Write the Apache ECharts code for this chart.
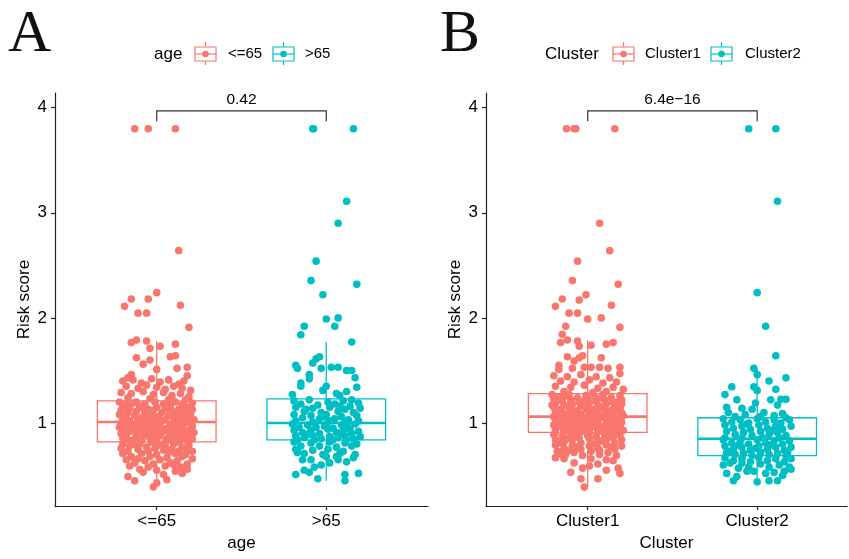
<!DOCTYPE html>
<html>
<head>
<meta charset="utf-8">
<script src="https://cdn.jsdelivr.net/npm/echarts@6/dist/echarts.min.js"></script>
<style>html,body{margin:0;padding:0;background:#fff}#c{width:849px;height:559px}</style>
</head>
<body>
<div id="c"></div>
<script>
// ---------------- DATA ----------------
const ageCats = ['<=65', '>65'];
const clusterCats = ['Cluster1', 'Cluster2'];
const yTicks = [1, 2, 3, 4];
const pValues = ['0.42', '6.4e\u221216'];
// box statistics: [lower whisker, Q1, median, Q3, upper whisker]
const ageBox = [[0.39, 0.82, 1.01, 1.21, 1.78], [0.45, 0.84, 1.00, 1.23, 1.77]];
const clusterBox = [[0.39, 0.91, 1.06, 1.28, 1.79], [0.44, 0.69, 0.85, 1.05, 1.52]];
// jittered points: [horizontal jitter (category units), risk score]
const ageLow = [
[-0.13,3.80],[-0.05,3.80],[0.11,3.80],
[0.13,2.64],[0.00,2.24],[-0.15,2.18],[-0.05,2.18],[-0.19,2.11],[0.14,2.12],[-0.11,2.045],[-0.06,2.045],[0.19,1.91],
[-0.15,1.765],[-0.12,1.79],[-0.06,1.78],[-0.04,1.71],[0.02,1.73],[0.11,1.75],
[-0.12,1.62],[-0.08,1.56],[-0.04,1.60],[0.08,1.63],[0.11,1.64],[0.00,1.51],[0.12,1.52],[0.18,1.53],
[-0.15,1.46],[-0.17,1.43],[0.18,1.45],
[-0.20,1.40],[-0.14,1.41],[-0.09,1.38],[-0.03,1.42],[0.02,1.39],[0.07,1.41],[0.13,1.37],[0.16,1.40],
[-0.18,1.35],[-0.11,1.33],[-0.06,1.36],[0.00,1.34],[0.05,1.32],[0.10,1.35],[0.15,1.33],[0.20,1.31],
[-0.21,1.29],[-0.15,1.28],[-0.08,1.30],[-0.02,1.27],[0.04,1.29],[0.09,1.26],[0.14,1.28],[0.19,1.25],
[-0.17,1.24],[-0.04,1.23],[0.07,1.22],[0.17,1.22],
[-0.22,1.20],[-0.12,1.20],[-0.01,1.20],[0.11,1.20],[0.21,1.19],
[-0.18,1.18],[-0.07,1.18],[0.04,1.18],[0.15,1.17],
[-0.20,1.16],[-0.10,1.16],[0.00,1.15],[0.08,1.16],[0.18,1.15],
[-0.16,1.14],[-0.05,1.13],[0.05,1.14],[0.13,1.13],[0.21,1.13],
[-0.21,1.12],[-0.12,1.11],[-0.02,1.12],[0.09,1.11],[0.17,1.11],
[-0.17,1.10],[-0.07,1.09],[0.03,1.10],[0.12,1.09],[0.20,1.09],
[-0.22,1.08],[-0.13,1.07],[-0.03,1.08],[0.07,1.07],[0.15,1.07],
[-0.18,1.06],[-0.09,1.05],[0.01,1.06],[0.10,1.05],[0.19,1.05],
[-0.20,1.04],[-0.11,1.03],[-0.04,1.04],[0.05,1.03],[0.14,1.03],[0.22,1.03],
[-0.16,1.02],[-0.06,1.02],[0.03,1.02],[0.12,1.01],[0.18,1.02],
[-0.14,1.19],[0.06,1.19],[-0.19,1.13],[0.16,1.16],[-0.01,1.05],[0.08,1.09],[-0.08,1.14],
[-0.21,1.00],[-0.12,0.99],[-0.02,1.00],[0.08,0.99],[0.17,1.00],
[-0.18,0.98],[-0.08,0.97],[0.02,0.98],[0.12,0.97],[0.21,0.97],
[-0.22,0.96],[-0.14,0.95],[-0.04,0.96],[0.06,0.95],[0.15,0.95],
[-0.19,0.94],[-0.10,0.93],[0.00,0.94],[0.10,0.93],[0.19,0.93],
[-0.16,0.92],[-0.06,0.91],[0.04,0.92],[0.13,0.91],[0.22,0.91],
[-0.21,0.90],[-0.12,0.89],[-0.02,0.90],[0.08,0.89],[0.17,0.89],
[-0.18,0.88],[-0.08,0.87],[0.02,0.88],[0.11,0.87],[0.20,0.87],
[-0.20,0.86],[-0.13,0.85],[-0.04,0.86],[0.06,0.85],[0.15,0.85],
[-0.17,0.84],[-0.09,0.83],[0.00,0.84],[0.09,0.83],[0.18,0.83],
[-0.14,0.82],[-0.03,0.82],[0.05,0.82],[0.13,0.82],
[-0.07,0.99],[0.13,0.99],[-0.15,0.97],[0.05,0.93],[-0.11,0.91],[0.14,0.88],[-0.01,0.86],[0.21,0.85],
[-0.20,0.80],[-0.10,0.80],[0.01,0.79],[0.10,0.80],[0.19,0.79],
[-0.16,0.78],[-0.06,0.77],[0.05,0.78],[0.15,0.77],
[-0.21,0.76],[-0.11,0.75],[-0.01,0.76],[0.09,0.75],[0.18,0.75],
[-0.17,0.73],[-0.05,0.73],[0.04,0.74],[0.13,0.73],[0.21,0.73],
[-0.20,0.71],[-0.09,0.71],[0.00,0.70],[0.11,0.71],[0.17,0.70],
[-0.15,0.68],[-0.04,0.68],[0.06,0.67],[0.15,0.68],[0.21,0.66],
[-0.18,0.65],[-0.07,0.64],[0.02,0.65],[0.12,0.64],
[-0.13,0.62],[-0.02,0.61],[0.08,0.62],[0.18,0.61],
[-0.16,0.59],[-0.05,0.58],[0.05,0.59],[0.14,0.58],
[-0.10,0.56],[0.00,0.55],[0.18,0.56],
[-0.17,0.49],[-0.13,0.45],[-0.02,0.39],[0.00,0.43],[0.06,0.46],[0.11,0.54],[0.15,0.52],
[-0.12,0.79],[0.07,0.72],[-0.11,0.66],[0.10,0.60],[-0.08,0.53],[0.04,0.51]
];
const ageHigh = [
[-0.08,3.80],[-0.075,3.80],[0.16,3.80],[0.12,3.11],[0.07,2.90],[-0.06,2.54],[-0.09,2.355],[0.18,2.32],[-0.02,2.22],[0.00,1.99],[0.07,2.00],[0.05,1.92],[-0.13,1.92],[-0.15,1.84],[0.15,1.77],
[-0.18,1.55],[-0.17,1.52],[-0.08,1.57],[-0.06,1.61],[-0.04,1.63],[-0.03,1.52],[0.03,1.53],[0.07,1.53],[0.12,1.50],[0.15,1.50],[-0.10,1.46],[-0.10,1.42],[0.17,1.43],[-0.15,1.38],[-0.15,1.35],[0.18,1.34],[0.00,1.35],[-0.02,1.31],[0.12,1.30],[-0.20,1.27],[0.06,1.28],[0.08,1.26],[0.15,1.22],
[-0.19,1.21],[-0.10,1.22],[0.01,1.20],[0.10,1.21],[0.19,1.19],
[-0.15,1.18],[-0.05,1.17],[0.05,1.18],[0.14,1.16],
[-0.18,1.15],[-0.08,1.14],[0.02,1.15],[0.11,1.13],[0.20,1.14],
[-0.13,1.11],[-0.03,1.10],[0.07,1.11],[0.16,1.10],
[-0.19,1.08],[-0.09,1.07],[0.00,1.08],[0.09,1.06],[0.18,1.07],
[-0.14,1.05],[-0.04,1.04],[0.05,1.04],[0.13,1.03],
[-0.18,1.02],[-0.08,1.01],[0.02,1.02],[0.11,1.01],[0.19,1.02],
[-0.12,1.13],[0.08,1.16],[-0.01,1.06],
[-0.20,0.99],[-0.11,0.98],[0.00,0.99],[0.09,0.98],[0.17,0.99],
[-0.16,0.96],[-0.06,0.96],[0.04,0.95],[0.13,0.96],
[-0.19,0.93],[-0.09,0.93],[0.01,0.94],[0.10,0.93],[0.19,0.92],
[-0.14,0.91],[-0.04,0.90],[0.06,0.91],[0.15,0.90],
[-0.18,0.88],[-0.08,0.88],[0.02,0.87],[0.11,0.88],[0.20,0.87],
[-0.13,0.86],[-0.03,0.85],[0.07,0.86],[0.16,0.85],
[-0.17,0.84],[-0.07,0.84],[0.04,0.84],[0.12,0.84],
[-0.01,0.97],[0.14,0.94],[-0.11,0.89],[0.08,0.90],
[-0.19,0.82],[-0.09,0.81],[0.02,0.82],[0.11,0.81],[0.18,0.80],
[-0.15,0.78],[-0.04,0.78],[0.06,0.77],[0.15,0.78],
[-0.18,0.75],[-0.08,0.74],[0.01,0.75],[0.10,0.73],
[-0.13,0.71],[-0.02,0.70],[0.08,0.71],[0.17,0.70],
[-0.14,0.65],[-0.09,0.65],[0.06,0.68],[0.07,0.65],[0.16,0.67],[0.12,0.63],[-0.07,0.58],[0.02,0.62],[-0.03,0.60],
[-0.18,0.51],[-0.13,0.55],[-0.10,0.53],[-0.05,0.47],[0.11,0.51],[0.11,0.45],[0.19,0.52],
[0.00,0.68],[-0.17,0.72]
];
const cluster1 = [
[-0.125,3.80],[-0.08,3.80],[-0.07,3.80],[0.16,3.80],
[0.07,2.90],[0.13,2.64],[-0.06,2.54],[-0.09,2.355],[0.18,2.32],[-0.01,2.22],[-0.15,2.18],[-0.05,2.17],[-0.19,2.11],[0.14,2.12],
[-0.11,2.045],[-0.06,2.045],[0.00,1.99],[0.08,2.00],[0.19,1.91],[-0.13,1.92],[-0.15,1.845],
[-0.16,1.765],[-0.12,1.79],[-0.06,1.78],[-0.05,1.73],[0.02,1.74],[0.11,1.75],[0.15,1.765],
[-0.12,1.63],[-0.08,1.59],[-0.05,1.62],[-0.03,1.64],[0.08,1.62],
[-0.17,1.55],[-0.17,1.51],[-0.09,1.52],[-0.02,1.53],[0.02,1.53],[0.07,1.53],[0.12,1.52],[0.19,1.53],[0.19,1.47],
[-0.20,1.45],[-0.12,1.44],[-0.04,1.46],[0.05,1.44],[0.13,1.43],
[-0.16,1.40],[-0.08,1.39],[0.01,1.41],[0.09,1.38],[0.17,1.39],
[-0.19,1.35],[-0.10,1.34],[-0.02,1.36],[0.06,1.33],[0.15,1.34],[0.21,1.32],
[-0.14,1.30],[0.03,1.29],[0.11,1.30],
[-0.21,1.27],[-0.11,1.27],[-0.01,1.26],[0.09,1.27],[0.19,1.26],
[-0.17,1.25],[-0.06,1.24],[0.04,1.25],[0.14,1.24],
[-0.20,1.23],[-0.10,1.22],[0.00,1.23],[0.10,1.22],[0.20,1.22],
[-0.15,1.21],[-0.05,1.20],[0.05,1.21],[0.15,1.20],
[-0.19,1.19],[-0.09,1.18],[0.01,1.19],[0.11,1.18],[0.20,1.18],
[-0.14,1.17],[-0.04,1.16],[0.06,1.17],[0.16,1.16],
[-0.20,1.15],[-0.10,1.14],[0.00,1.15],[0.10,1.14],[0.19,1.14],
[-0.16,1.13],[-0.06,1.12],[0.04,1.13],[0.14,1.12],
[-0.19,1.11],[-0.09,1.10],[0.01,1.11],[0.11,1.10],[0.20,1.10],
[-0.14,1.09],[-0.04,1.08],[0.06,1.09],[0.16,1.08],
[-0.18,1.07],[-0.08,1.07],[0.02,1.07],[0.12,1.07],[0.21,1.07],
[-0.13,1.26],[0.08,1.24],[-0.02,1.21],[0.18,1.20],[-0.12,1.16],[0.08,1.15],[-0.01,1.13],[0.17,1.12],[-0.11,1.09],[0.07,1.08],[-0.21,1.17],
[-0.20,1.06],[-0.10,1.05],[0.00,1.06],[0.10,1.05],[0.19,1.05],
[-0.15,1.04],[-0.05,1.03],[0.05,1.04],[0.15,1.03],
[-0.19,1.02],[-0.09,1.01],[0.01,1.02],[0.11,1.01],[0.20,1.01],
[-0.14,1.00],[-0.04,0.99],[0.06,1.00],[0.16,0.99],
[-0.20,0.98],[-0.10,0.97],[0.00,0.98],[0.10,0.97],[0.19,0.97],
[-0.15,0.96],[-0.05,0.95],[0.05,0.96],[0.15,0.95],
[-0.19,0.94],[-0.09,0.93],[0.01,0.94],[0.11,0.93],[0.21,0.93],
[-0.14,0.92],[-0.04,0.92],[0.06,0.92],[0.16,0.91],
[-0.19,0.91],[-0.09,0.91],[0.01,0.91],[0.11,0.91],
[-0.12,1.06],[0.07,1.06],[-0.02,1.04],[0.17,1.04],[-0.13,1.02],[0.06,1.02],[-0.18,1.00],[0.02,1.00],[0.12,0.99],[-0.07,0.98],[0.14,0.98],[-0.11,0.96],[0.09,0.96],[-0.01,0.95],[0.19,0.95],[-0.14,0.94],[0.06,0.94],[-0.07,0.93],[0.13,0.93],[-0.02,0.92],[0.19,0.92],
[-0.20,0.89],[-0.10,0.89],[0.00,0.88],[0.10,0.89],[0.19,0.88],
[-0.15,0.87],[-0.05,0.86],[0.05,0.87],[0.15,0.86],
[-0.19,0.84],[-0.09,0.84],[0.01,0.85],[0.11,0.84],[0.20,0.84],
[-0.14,0.82],[-0.04,0.81],[0.06,0.82],[0.16,0.81],
[-0.19,0.79],[-0.09,0.79],[0.01,0.78],[0.11,0.79],[0.20,0.78],
[-0.14,0.76],[-0.04,0.75],[0.06,0.76],[0.16,0.75],
[-0.18,0.73],[-0.08,0.72],[0.02,0.73],[0.12,0.72],
[-0.13,0.70],[-0.03,0.69],[0.07,0.70],[0.17,0.69],
[-0.19,0.67],[-0.14,0.66],[0.01,0.59],[-0.03,0.57],[0.11,0.65],[-0.10,0.53],[-0.04,0.47],[-0.02,0.39],[0.06,0.47],[0.11,0.55],[0.18,0.57],[0.19,0.52],
[-0.07,0.88],[0.13,0.87],[-0.12,0.85],[0.08,0.83],[-0.17,0.81],[0.03,0.80],[-0.06,0.77],[0.14,0.77],[-0.11,0.74],[0.07,0.74],[-0.16,0.71],[0.02,0.66],[0.15,0.64],[-0.08,0.62],[0.06,0.61]
];
const cluster2 = [
[-0.05,3.80],[0.11,3.80],[0.12,3.11],[0.00,2.24],[0.05,1.92],[0.11,1.64],[-0.02,1.52],[0.00,1.46],[0.17,1.43],[0.07,1.40],[0.11,1.32],[-0.19,1.27],[-0.15,1.345],[-0.12,1.22],[-0.02,1.345],[0.00,1.31],[0.08,1.22],[0.14,1.225],[0.17,1.225],[0.12,1.17],[-0.03,1.13],[-0.09,1.14],[0.17,1.05],
[-0.17,1.10],[-0.07,1.08],[0.04,1.10],[0.10,1.07],[-0.13,1.06],[0.02,1.06],[0.15,1.09],[-0.01,1.19],[-0.18,1.15],
[-0.20,1.04],[-0.10,1.03],[0.00,1.04],[0.10,1.03],[0.19,1.03],
[-0.15,1.01],[-0.05,1.00],[0.05,1.01],[0.14,1.00],
[-0.19,0.98],[-0.09,0.97],[0.01,0.98],[0.11,0.97],[0.20,0.97],
[-0.14,0.95],[-0.04,0.94],[0.06,0.95],[0.15,0.94],
[-0.18,0.92],[-0.08,0.91],[0.02,0.92],[0.12,0.91],
[-0.13,0.89],[-0.03,0.88],[0.07,0.89],[0.17,0.88],
[-0.19,0.86],[-0.09,0.86],[0.03,0.86],[0.13,0.86],
[-0.06,0.99],[0.09,0.93],
[-0.20,0.84],[-0.10,0.83],[0.00,0.84],[0.10,0.83],[0.19,0.83],
[-0.15,0.81],[-0.05,0.80],[0.05,0.81],[0.15,0.80],
[-0.19,0.78],[-0.09,0.77],[0.01,0.78],[0.11,0.77],[0.20,0.77],
[-0.14,0.75],[-0.04,0.74],[0.06,0.75],[0.16,0.74],
[-0.18,0.72],[-0.08,0.71],[0.02,0.72],[0.12,0.71],
[-0.13,0.70],[-0.03,0.69],[0.07,0.70],[0.17,0.69],
[-0.11,0.79],[0.08,0.79],[-0.01,0.76],[0.18,0.72],[-0.16,0.73],
[-0.19,0.67],[-0.09,0.66],[0.01,0.67],[0.11,0.66],[0.20,0.66],
[-0.14,0.64],[-0.04,0.63],[0.06,0.64],[0.16,0.63],
[-0.20,0.60],[-0.16,0.62],[-0.09,0.62],[0.02,0.61],[0.13,0.60],
[-0.11,0.57],[0.07,0.58],[0.19,0.58],
[-0.18,0.52],[-0.14,0.45],[0.00,0.44],[0.07,0.45],[0.12,0.45],[0.16,0.54],[0.20,0.56],[0.05,0.52],[0.10,0.53],[-0.06,0.54],[-0.02,0.54],
[-0.05,0.58],[0.15,0.50],[-0.12,0.49]
];

// ---------------- STYLE / LAYOUT ----------------
const colors = ['#F8766D', '#00BFC4'];
const FONT = 'Liberation Sans, Arial, sans-serif';
const panels = [
  { letter: 'A', title: 'age', cats: ageCats, groups: [ageLow, ageHigh], boxes: ageBox, p: pValues[0],
    left: 55, width: 373, xMax: 2.6, letterX: 8,
    legend: { titleX: 154, icons: [195, 273], labels: [228, 305] } },
  { letter: 'B', title: 'Cluster', cats: clusterCats, groups: [cluster1, cluster2], boxes: clusterBox, p: pValues[1],
    left: 486, width: 361, xMax: 2.53, letterX: 440,
    legend: { titleX: 545, icons: [613, 711], labels: [645, 745] } }
];
const bracket = [3.97, 3.87];

const chart = echarts.init(document.getElementById('c'), null, { renderer: 'canvas' });

const grids = [], xAxes = [], yAxes = [], series = [], graphics = [];
panels.forEach((pn, i) => {
  grids.push({ left: pn.left, top: 93, width: pn.width, height: 413, outerBoundsMode: 'none', containLabel: false });
  xAxes.push({
    type: 'value', gridIndex: i, min: 0.4, max: pn.xMax,
    name: pn.title, nameLocation: 'middle', nameGap: 27,
    nameTextStyle: { fontSize: 17, color: '#000', fontFamily: FONT },
    axisLine: { show: true, lineStyle: { color: '#222', width: 1.2 } },
    axisTick: { show: true, length: 4, customValues: [1, 2], lineStyle: { color: '#222', width: 1.2 } },
    axisLabel: { customValues: [1, 2], formatter: v => pn.cats[Math.round(v) - 1], fontSize: 17, color: '#000', fontFamily: FONT, margin: 7 },
    splitLine: { show: false }
  });
  yAxes.push({
    type: 'value', gridIndex: i, min: 0.21, max: 4.14,
    name: 'Risk score', nameLocation: 'middle', nameGap: 22,
    nameTextStyle: { fontSize: 17, color: '#000', fontFamily: FONT },
    axisLine: { show: true, lineStyle: { color: '#222', width: 1.2 } },
    axisTick: { show: true, length: 4, customValues: yTicks, lineStyle: { color: '#222', width: 1.2 } },
    axisLabel: { customValues: yTicks, fontSize: 17, color: '#000', fontFamily: FONT, margin: 8 },
    splitLine: { show: false }
  });
  // boxes
  pn.boxes.forEach((b, g) => {
    series.push({
      type: 'custom', xAxisIndex: i, yAxisIndex: i, z: 1, silent: true,
      data: [[g + 1].concat(b)],
      renderItem: (params, api) => {
        const x = api.value(0), hw = 0.35;
        const c = api.coord.bind(api);
        const pLo = c([x, api.value(1)]), pQ1 = c([x - hw, api.value(2)]), pMed = c([x - hw, api.value(3)]);
        const pQ3 = c([x + hw, api.value(4)]), pHi = c([x, api.value(5)]);
        const medR = c([x + hw, api.value(3)]);
        const cx = c([x, api.value(2)]);
        const q3c = c([x, api.value(4)]);
        const st = { stroke: colors[g], lineWidth: 1.3, fill: null };
        return { type: 'group', children: [
          { type: 'line', shape: { x1: cx[0], y1: cx[1], x2: pLo[0], y2: pLo[1] }, style: st },
          { type: 'line', shape: { x1: q3c[0], y1: q3c[1], x2: pHi[0], y2: pHi[1] }, style: st },
          { type: 'rect', shape: { x: pQ1[0], y: pQ3[1], width: pQ3[0] - pQ1[0], height: pQ1[1] - pQ3[1] }, style: { stroke: colors[g], lineWidth: 1.3, fill: '#fff' } },
          { type: 'line', shape: { x1: pMed[0], y1: pMed[1], x2: medR[0], y2: medR[1] }, style: { stroke: colors[g], lineWidth: 2.6 } }
        ] };
      }
    });
  });
  // points
  pn.groups.forEach((pts, g) => {
    series.push({
      type: 'scatter', name: pn.cats[g], xAxisIndex: i, yAxisIndex: i, z: 2, silent: true,
      symbol: 'circle', symbolSize: 7.6,
      itemStyle: { color: colors[g], opacity: 1 },
      data: pts.map(p => [g + 1 + p[0], p[1]])
    });
  });
  // significance bracket
  series.push({
    type: 'custom', xAxisIndex: i, yAxisIndex: i, z: 3, silent: true,
    data: [[1, 2, bracket[0], bracket[1]]],
    renderItem: (params, api) => {
      const a = api.coord([api.value(0), api.value(3)]);
      const b = api.coord([api.value(0), api.value(2)]);
      const c2 = api.coord([api.value(1), api.value(2)]);
      const d = api.coord([api.value(1), api.value(3)]);
      return { type: 'group', children: [
        { type: 'polyline', shape: { points: [a, b, c2, d] }, style: { stroke: '#333', lineWidth: 1.2, fill: null } },
        { type: 'text', x: (b[0] + c2[0]) / 2, y: b[1] - 3, style: { text: pn.p, fontSize: 15.5, fontFamily: FONT, fill: '#000', align: 'center', verticalAlign: 'bottom' } }
      ] };
    }
  });
  // panel letter
  graphics.push({ type: 'text', x: pn.letterX, y: 35, style: { text: pn.letter, fontSize: 60, fontFamily: 'Liberation Serif, Times New Roman, serif', fill: '#111', verticalAlign: 'middle' } });
  // legend
  const L = pn.legend;
  graphics.push({ type: 'text', x: L.titleX, y: 54, style: { text: pn.title, fontSize: 17, fontFamily: FONT, fill: '#000', verticalAlign: 'middle' } });
  L.icons.forEach((ix, g) => {
    const col = colors[g];
    graphics.push({ type: 'line', shape: { x1: ix + 10.5, y1: 42, x2: ix + 10.5, y2: 65 }, style: { stroke: col, lineWidth: 1.2 } });
    graphics.push({ type: 'rect', shape: { x: ix, y: 47, width: 21, height: 14 }, style: { stroke: col, lineWidth: 1.2, fill: '#fff' } });
    graphics.push({ type: 'line', shape: { x1: ix, y1: 54, x2: ix + 21, y2: 54 }, style: { stroke: col, lineWidth: 1.2 } });
    graphics.push({ type: 'circle', shape: { cx: ix + 10.5, cy: 54, r: 3.3 }, style: { fill: col } });
    graphics.push({ type: 'text', x: L.labels[g], y: 54, style: { text: pn.cats[g], fontSize: 15, fontFamily: FONT, fill: '#000', verticalAlign: 'middle' } });
  });
});

chart.setOption({
  animation: false,
  backgroundColor: '#fff',
  grid: grids, xAxis: xAxes, yAxis: yAxes, series: series,
  graphic: graphics
});
</script>
</body>
</html>
